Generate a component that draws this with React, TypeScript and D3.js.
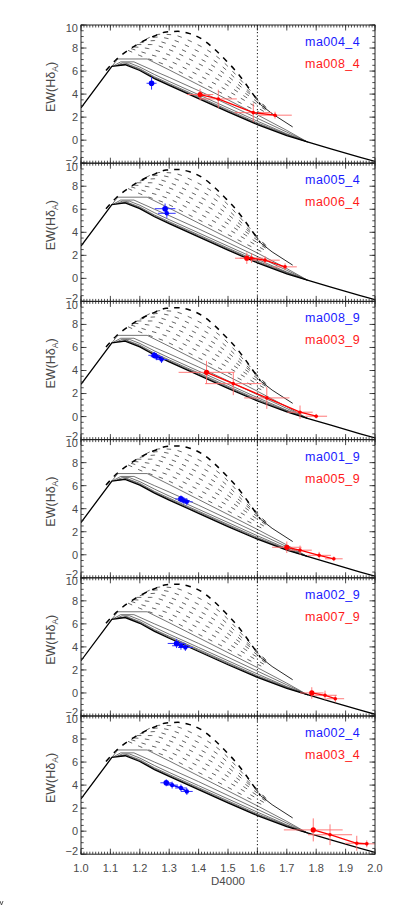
import React from 'react';
import * as d3 from 'd3';

const W = 399, H = 907;
const X0 = 81, X1 = 375;
const TOP = 25, PH = 138.2;
const NP = 6;

const xTickLabels = ['1.0','1.1','1.2','1.3','1.4','1.5','1.6','1.7','1.8','1.9','2.0'];
const yTickValues = [-2, 0, 2, 4, 6, 8, 10];

const blueLabels = ['ma004_4', 'ma005_4', 'ma008_9', 'ma001_9', 'ma002_9', 'ma002_4'];
const redLabels = ['ma008_4', 'ma006_4', 'ma003_9', 'ma005_9', 'ma007_9', 'ma003_4'];

type P = [number, number];
type E = [number, number, number, number];

// model tracks (D4000, EW)
const mainTrack: P[] = [[1.0,2.8],[1.105,6.4],[1.15,6.55],[1.2,6.05],[1.25,5.35],[1.3,4.75],[1.4,3.6],[1.5,2.45],[1.6,1.35],[1.7,0.4],[1.77,-0.15],[1.85,-0.75],[1.95,-1.5],[2.0,-1.85]];
const solid1: P[] = [[1.105,6.4],[1.125,7.05],[1.225,7.05],[1.3,6.1],[1.4,4.8],[1.5,3.5],[1.6,2.2],[1.7,0.85],[1.77,-0.15]];
const solid2: P[] = [[1.11,6.45],[1.135,6.8],[1.18,6.8],[1.25,6.0],[1.3,5.45],[1.4,4.3],[1.5,3.1],[1.6,1.9],[1.7,0.7],[1.77,-0.15]];
const solid3: P[] = [[1.12,6.48],[1.14,6.7],[1.165,6.7],[1.2,6.35],[1.25,5.7],[1.3,5.1],[1.4,3.95],[1.5,2.8],[1.6,1.65],[1.7,0.55],[1.77,-0.15]];
const solid4: P[] = [[1.125,6.5],[1.155,6.63],[1.2,6.2],[1.25,5.5],[1.3,4.92],[1.4,3.78],[1.5,2.63],[1.6,1.5],[1.7,0.5],[1.77,-0.15]];
const solid5: P[] = [[1.13,6.5],[1.155,6.58],[1.2,6.12],[1.25,5.42],[1.3,4.83],[1.4,3.69],[1.5,2.54],[1.6,1.42],[1.7,0.45],[1.77,-0.15]];
const envelope: P[] = [[1.085,6.05],[1.12,7.0],[1.16,7.8],[1.2,8.45],[1.25,9.05],[1.29,9.4],[1.33,9.45],[1.37,9.25],[1.41,8.8],[1.45,8.0],[1.49,7.0],[1.53,5.9],[1.56,4.9],[1.585,4.0],[1.61,3.1]];
const envelopeTail: P[] = [[1.61,3.1],[1.65,2.3],[1.72,1.15]];
const arc1: P[] = [[1.16,7.8],[1.2,7.35],[1.29,6.5],[1.38,5.35],[1.47,4.2],[1.56,3.0],[1.62,2.25]];
const arc2: P[] = [[1.17,7.95],[1.22,7.55],[1.29,7.0],[1.38,5.9],[1.47,4.7],[1.56,3.4],[1.625,2.45]];
const arc3: P[] = [[1.18,8.1],[1.23,7.95],[1.29,7.5],[1.38,6.4],[1.47,5.2],[1.56,3.75],[1.63,2.6]];
const arc4: P[] = [[1.19,8.3],[1.24,8.3],[1.29,7.95],[1.38,6.9],[1.47,5.65],[1.56,4.05],[1.63,2.75]];
const arc5: P[] = [[1.2,8.45],[1.25,8.65],[1.29,8.4],[1.38,7.4],[1.47,6.1],[1.56,4.3],[1.63,2.85]];
const arc6: P[] = [[1.21,8.6],[1.26,8.95],[1.3,8.8],[1.38,7.95],[1.47,6.6],[1.56,4.5],[1.625,2.95]];
const arc7: P[] = [[1.22,8.75],[1.27,9.2],[1.31,9.15],[1.38,8.5],[1.47,7.1],[1.56,4.75],[1.62,3.05]];

const solidThin = [solid1, solid2, solid3, solid4, solid5];
const innerArcs = [arc1, arc2, arc3, arc4, arc5, arc6, arc7];

// observations: [D4000, EW, errD, errEW]
const blue1: E[] = [[1.24,4.94,0.017,0.55]];
const blue2: E[] = [[1.286,6.05,0.035,0.45],[1.292,5.65,0.03,0.4]];
const blue3: E[] = [[1.249,5.32,0.02,0.3],[1.257,5.2,0.02,0.3],[1.274,4.95,0.02,0.3]];
const blue4: E[] = [[1.34,4.85,0.02,0.3],[1.35,4.7,0.02,0.3],[1.36,4.6,0.02,0.3]];
const blue5: E[] = [[1.325,4.3,0.03,0.4],[1.34,4.1,0.03,0.35],[1.355,3.95,0.025,0.3]];
const blue6: E[] = [[1.29,4.2,0.02,0.3],[1.31,4.0,0.02,0.3],[1.34,3.75,0.02,0.3],[1.36,3.45,0.02,0.3]];

const red1: E[] = [[1.405,3.96,0.045,0.5],[1.467,3.58,0.063,0.8],[1.586,2.39,0.063,0.8],[1.66,2.17,0.057,0.3]];
const red2: E[] = [[1.564,1.75,0.04,0.5],[1.58,1.75,0.04,0.4],[1.626,1.58,0.05,0.35],[1.694,1.0,0.04,0.3]];
const red3: E[] = [[1.427,3.84,0.095,1.0],[1.518,2.86,0.096,1.0],[1.632,1.62,0.077,0.95],[1.745,0.38,0.043,0.58],[1.8,0.03,0.037,0.2]];
const red4: E[] = [[1.7,0.65,0.05,0.5],[1.745,0.4,0.04,0.4],[1.81,-0.05,0.04,0.3],[1.86,-0.35,0.03,0.2]];
const red5: E[] = [[1.785,0.0,0.04,0.5],[1.83,-0.2,0.04,0.4],[1.865,-0.5,0.03,0.3]];
const red6: E[] = [[1.79,0.11,0.1,1.0],[1.847,-0.31,0.075,0.9],[1.938,-1.05,0.04,0.65],[1.972,-1.1,0.03,0.3]];

const blueSets = [blue1, blue2, blue3, blue4, blue5, blue6];
const redSets = [red1, red2, red3, red4, red5, red6];

const FONT = "'Liberation Sans', Arial, Helvetica, sans-serif";
const GRAY = '#4a4a4a';

export default function App() {
  const x = d3.scaleLinear().domain([1, 2]).range([X0, X1]);
  const xMinor = d3.range(0, 101).map(k => 1 + k * 0.01);
  const xMajor = xTickLabels.map(t => +t);

  const panels = d3.range(NP).map(i => {
    const top = TOP + i * PH;
    const y = d3.scaleLinear().domain([-2, 10]).range([top + PH, top]);
    const lin = d3.line<P>().x(d => x(d[0])).y(d => y(d[1]));
    const smooth = d3.line<P>().x(d => x(d[0])).y(d => y(d[1])).curve(d3.curveMonotoneX);
    const yMinor = d3.range(0, 25).map(k => -2 + k * 0.5);
    const blue = blueSets[i];
    const red = redSets[i];
    const lineE = d3.line<E>().x(d => x(d[0])).y(d => y(d[1]));
    return (
      <g key={i}>
        <defs>
          <clipPath id={`clip${i}`}>
            <rect x={X0} y={top} width={X1 - X0} height={PH} />
          </clipPath>
        </defs>
        <g clipPath={`url(#clip${i})`}>
          {innerArcs.map((a, k) => (
            <path key={'a' + k} d={smooth(a) || ''} fill="none" stroke="#333" strokeWidth={0.75} strokeDasharray="4.5,6.5" />
          ))}
          <path d={smooth(envelope) || ''} fill="none" stroke="#000" strokeWidth={1.5} strokeDasharray="5.5,6" />
          <path d={lin(envelopeTail) || ''} fill="none" stroke="#111" strokeWidth={0.9} />
          {solidThin.map((s, k) => (
            <path key={'s' + k} d={lin(s) || ''} fill="none" stroke="#3a3a3a" strokeWidth={0.7} />
          ))}
          <path d={lin(mainTrack) || ''} fill="none" stroke="#000" strokeWidth={1.3} />
          {blue.map((p, k) => (
            <g key={'be' + k} stroke="#3030ff" strokeWidth={1}>
              <line x1={x(p[0] - p[2])} x2={x(p[0] + p[2])} y1={y(p[1])} y2={y(p[1])} />
              <line x1={x(p[0])} x2={x(p[0])} y1={y(p[1] - p[3])} y2={y(p[1] + p[3])} />
            </g>
          ))}
          <path d={lineE(blue) || ''} fill="none" stroke="#0000ff" strokeWidth={1.5} />
          {blue.map((p, k) => (
            <circle key={'bc' + k} cx={x(p[0])} cy={y(p[1])} r={k === 0 ? 2.8 : 2.2} fill="#0000ff" />
          ))}
          {red.map((p, k) => (
            <g key={'re' + k} stroke="#ff6a6a" strokeWidth={0.9}>
              <line x1={x(p[0] - p[2])} x2={x(p[0] + p[2])} y1={y(p[1])} y2={y(p[1])} />
              <line x1={x(p[0])} x2={x(p[0])} y1={y(p[1] - p[3])} y2={y(p[1] + p[3])} />
            </g>
          ))}
          <path d={lineE(red) || ''} fill="none" stroke="#ff0000" strokeWidth={1.3} />
          {red.map((p, k) => (
            <circle key={'rc' + k} cx={x(p[0])} cy={y(p[1])} r={k === 0 ? 2.6 : 1.8} fill="#ff0000" />
          ))}
        </g>
        <rect x={X0} y={top} width={X1 - X0} height={PH} fill="none" stroke="#222" strokeWidth={1} />
        {xMinor.map((v, k) => (
          <g key={'xm' + k} stroke="#222" strokeWidth={0.8}>
            <line x1={x(v)} x2={x(v)} y1={top} y2={top + 2.5} />
            <line x1={x(v)} x2={x(v)} y1={top + PH} y2={top + PH - 2.5} />
          </g>
        ))}
        {xMajor.map((v, k) => (
          <g key={'xM' + k} stroke="#222" strokeWidth={0.8}>
            <line x1={x(v)} x2={x(v)} y1={top} y2={top + 5.5} />
            <line x1={x(v)} x2={x(v)} y1={top + PH} y2={top + PH - 5.5} />
          </g>
        ))}
        {yMinor.map((v, k) => (
          <g key={'ym' + k} stroke="#222" strokeWidth={0.8}>
            <line x1={X0} x2={X0 + 2.7} y1={y(v)} y2={y(v)} />
            <line x1={X1} x2={X1 - 2.7} y1={y(v)} y2={y(v)} />
          </g>
        ))}
        {yTickValues.map((v, k) => (
          <g key={'yM' + k} stroke="#222" strokeWidth={0.8}>
            <line x1={X0} x2={X0 + 5.5} y1={y(v)} y2={y(v)} />
            <line x1={X1} x2={X1 - 5.5} y1={y(v)} y2={y(v)} />
          </g>
        ))}
        {yTickValues.map((v, k) => (
          <text key={'yl' + k} x={X0 - 3} y={y(v) + (v === 10 ? 3.5 : v === -2 ? -3.5 : 0)} dy="0.36em" textAnchor="end"
            fontFamily={FONT} fontSize={11} fill={GRAY}>
            {v < 0 ? '\u2212' + Math.abs(v) : String(v)}
          </text>
        ))}
        <text transform={`translate(55,${top + 62}) rotate(-90)`} textAnchor="middle" fontFamily={FONT} fontSize={12.5} fill={GRAY}>
          EW(H&#948;<tspan fontSize={8.5} dy="3">A</tspan><tspan dy="-3">)</tspan>
        </text>
        <text x={360} y={top + 21} textAnchor="end" fontFamily={FONT} fontSize={12.5} letterSpacing={0.4} fill="#1a1aff">{blueLabels[i]}</text>
        <text x={360} y={top + 43} textAnchor="end" fontFamily={FONT} fontSize={12.5} letterSpacing={0.4} fill="#ff1a1a">{redLabels[i]}</text>
      </g>
    );
  });

  const bottom = TOP + NP * PH;
  return (
    <svg width={W} height={H} style={{ position: 'absolute', left: 0, top: 0, display: 'block', background: '#fff' }}>
      <rect x={0} y={0} width={W} height={H} fill="#fff" />
      {panels}
      <line x1={x(1.6)} x2={x(1.6)} y1={TOP} y2={bottom} stroke="#111" strokeWidth={1} strokeDasharray="1.2,2.3" />
      {xTickLabels.map((t, k) => (
        <text key={'xl' + k} x={x(+t)} y={bottom + 14} dy="0.36em" textAnchor="middle" fontFamily={FONT} fontSize={11} fill={GRAY}>{t}</text>
      ))}
      <text x={(X0 + X1) / 2} y={bottom + 31} textAnchor="middle" fontFamily={FONT} fontSize={11.5} fill={GRAY}>D4000</text>
      <path d="M0,901 L1.5,905 L3,901" fill="none" stroke="#333" strokeWidth={0.8} />
    </svg>
  );
}
